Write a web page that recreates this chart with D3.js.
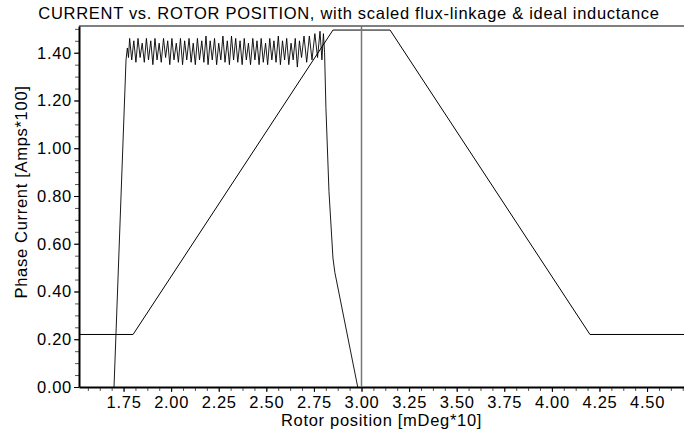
<!DOCTYPE html>
<html>
<head>
<meta charset="utf-8">
<script src="https://cdn.jsdelivr.net/npm/d3@7"></script>
<style>
  body { margin: 0; background: #fff; }
  svg { display: block; font-family: "Liberation Sans", Arial, sans-serif; }
</style>
</head>
<body>
<div class="chart"></div>
<script>
// idealised inductance profile (scaled)
const inductPos = [1.516, 1.80, 2.85, 3.15, 4.20, 4.694]
const inductVal = [0.22, 0.22, 1.495, 1.495, 0.22, 0.22]

// phase current, hysteresis chopping then de-fluxing
const currentPos = [
  1.700, 1.763, 1.770,
  1.776, 1.782, 1.793, 1.804, 1.815, 1.826, 1.837, 1.848, 1.859, 1.870,
  1.881, 1.893, 1.904, 1.915, 1.926, 1.937, 1.948, 1.960, 1.971, 1.982,
  1.993, 2.004, 2.015, 2.027, 2.038, 2.049, 2.060, 2.071, 2.082, 2.094,
  2.105, 2.116, 2.127, 2.138, 2.149, 2.161, 2.172, 2.183, 2.194, 2.205,
  2.216, 2.228, 2.239, 2.250, 2.261, 2.272, 2.283, 2.295, 2.306, 2.317,
  2.328, 2.339, 2.350, 2.362, 2.373, 2.384, 2.395, 2.406, 2.417, 2.429,
  2.440, 2.451, 2.462, 2.473, 2.484, 2.496, 2.507, 2.518, 2.529, 2.540,
  2.551, 2.563, 2.574, 2.585, 2.596, 2.607, 2.618, 2.630, 2.641, 2.652,
  2.663, 2.674, 2.685, 2.698, 2.712, 2.726, 2.740, 2.755, 2.769, 2.782,
  2.792, 2.800,
  2.806, 2.813, 2.829, 2.850, 2.860, 2.980
]
const currentVal = [
  0.00, 1.37, 1.42,
  1.38, 1.46, 1.37, 1.45, 1.36, 1.46, 1.38, 1.44, 1.36, 1.46,
  1.37, 1.45, 1.35, 1.46, 1.37, 1.44, 1.36, 1.46, 1.38, 1.45,
  1.35, 1.46, 1.37, 1.44, 1.36, 1.46, 1.35, 1.45, 1.37, 1.46,
  1.36, 1.44, 1.35, 1.46, 1.37, 1.45, 1.36, 1.47, 1.35, 1.45,
  1.37, 1.46, 1.35, 1.44, 1.37, 1.47, 1.36, 1.45, 1.35, 1.47,
  1.37, 1.46, 1.36, 1.45, 1.35, 1.46, 1.37, 1.44, 1.35, 1.46,
  1.37, 1.45, 1.35, 1.46, 1.36, 1.44, 1.35, 1.46, 1.37, 1.45,
  1.36, 1.47, 1.35, 1.45, 1.37, 1.46, 1.35, 1.44, 1.37, 1.46,
  1.34, 1.45, 1.38, 1.47, 1.36, 1.47, 1.37, 1.48, 1.38, 1.49,
  1.37, 1.48,
  1.40, 1.17, 0.82, 0.54, 0.48, 0.00
]

// aligned rotor position marker
const alignedPos = 3.00

const xTicks = [1.75, 2.00, 2.25, 2.50, 2.75, 3.00, 3.25, 3.50, 3.75, 4.00, 4.25, 4.50]
const yTicks = [0.00, 0.20, 0.40, 0.60, 0.80, 1.00, 1.20, 1.40]

const titleText = "CURRENT vs. ROTOR POSITION, with scaled flux-linkage & ideal inductance"
const xLabel = "Rotor position [mDeg*10]"
const yLabel = "Phase Current [Amps*100]"

const width = 684
const height = 438
const margin = { top: 26, right: 0, bottom: 51, left: 79 }
const graphWidth = width - margin.left - margin.right
const graphHeight = height - margin.top - margin.bottom
const fontSize = 16.5
const spacing = 0.7

const svg = d3.select(".chart").append("svg").attr("width", width).attr("height", height)

const graph = svg.append("g").attr("transform", `translate(${margin.left}, ${margin.top})`)

const xScale = d3.scaleLinear().domain([1.516, 4.694]).range([0, graphWidth])
const yScale = d3.scaleLinear().domain([0, 1.512]).range([graphHeight, 0])

// minor ticks every quarter of a major step
const xMinor = d3.range(1.5625, 4.694, 0.0625).filter(v => v >= 1.516)
const yMinor = d3.range(0, 1.512, 0.05)

graph
  .append("g")
  .attr("transform", `translate(0, ${graphHeight})`)
  .call(d3.axisBottom(xScale).tickValues(xMinor).tickSize(4).tickFormat(""))
  .call(g => g.select(".domain").remove())
  .selectAll("line")
  .attr("stroke", "#555")

graph
  .append("g")
  .call(d3.axisLeft(yScale).tickValues(yMinor).tickSize(4).tickFormat(""))
  .call(g => g.select(".domain").remove())
  .selectAll("line")
  .attr("stroke", "#555")

const xAxisGroup = graph
  .append("g")
  .attr("transform", `translate(0, ${graphHeight})`)
  .call(d3.axisBottom(xScale).tickValues(xTicks).tickSize(5).tickSizeOuter(0).tickPadding(4).tickFormat(d3.format(".2f")))

const yAxisGroup = graph
  .append("g")
  .call(d3.axisLeft(yScale).tickValues(yTicks).tickSize(5).tickSizeOuter(0).tickPadding(2).tickFormat(d3.format(".2f")))

;[xAxisGroup, yAxisGroup].forEach(g => {
  g.select(".domain").attr("stroke", "#000").attr("stroke-width", 2)
  g.selectAll("text")
    .attr("font-size", fontSize)
    .attr("letter-spacing", spacing)
    .attr("fill", "#000")
    .attr("font-family", "Liberation Sans, Arial, sans-serif")
  g.selectAll(".tick line").attr("stroke", "#000")
})

// top frame line
graph
  .append("line")
  .attr("x1", 0)
  .attr("x2", graphWidth)
  .attr("y1", 0)
  .attr("y2", 0)
  .attr("stroke", "#000")
  .attr("stroke-width", 1)

const line = d3
  .line()
  .x(d => xScale(d[0]))
  .y(d => yScale(d[1]))

graph
  .append("path")
  .datum(inductPos.map((p, i) => [p, inductVal[i]]))
  .attr("fill", "none")
  .attr("stroke", "#000")
  .attr("stroke-width", 1)
  .attr("d", line)

graph
  .append("line")
  .attr("x1", xScale(alignedPos))
  .attr("x2", xScale(alignedPos))
  .attr("y1", yScale(0))
  .attr("y2", 0)
  .attr("stroke", "#777")
  .attr("stroke-width", 1.5)

graph
  .append("path")
  .datum(currentPos.map((p, i) => [p, currentVal[i]]))
  .attr("fill", "none")
  .attr("stroke", "#000")
  .attr("stroke-width", 0.9)
  .attr("d", line)

svg
  .append("text")
  .attr("x", 349)
  .attr("y", 19)
  .attr("text-anchor", "middle")
  .attr("font-size", fontSize)
  .attr("letter-spacing", spacing)
  .text(titleText)

svg
  .append("text")
  .attr("x", margin.left + graphWidth / 2)
  .attr("y", 426)
  .attr("text-anchor", "middle")
  .attr("font-size", fontSize)
  .attr("letter-spacing", spacing)
  .text(xLabel)

svg
  .append("text")
  .attr("transform", `translate(27, 192) rotate(-90)`)
  .attr("text-anchor", "middle")
  .attr("font-size", fontSize)
  .attr("letter-spacing", spacing)
  .text(yLabel)
</script>
</body>
</html>
